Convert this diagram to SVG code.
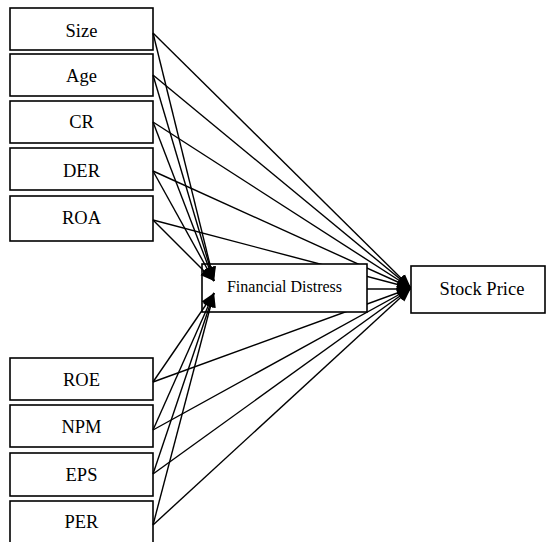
<svg xmlns="http://www.w3.org/2000/svg" width="547" height="542" viewBox="0 0 547 542">
<style>
.box{fill:#fff;stroke:#000;stroke-width:1.6}
text{font-family:'Liberation Serif','Times New Roman','DejaVu Serif',serif;font-size:18.5px;fill:#000;text-anchor:middle}
.fd{font-size:16px}
.c line{stroke:#000;stroke-width:1.4;marker-end:url(#ah)}
</style>
<defs>
<marker id="ah" markerUnits="userSpaceOnUse" markerWidth="16" markerHeight="12" refX="14" refY="6" orient="auto">
<path d="M0,0.5 L14,6 L0,11.5 Z" fill="#000"/>
</marker>
</defs>
<rect width="547" height="542" fill="#fff"/>
<g class="c" id="connectors">
<line x1="153" y1="33" x2="411" y2="288"/>
<line x1="153" y1="75" x2="411" y2="288"/>
<line x1="153" y1="122" x2="411" y2="288"/>
<line x1="153" y1="171" x2="411" y2="288"/>
<line x1="153" y1="220" x2="411" y2="288"/>
<line x1="153" y1="382" x2="411" y2="288"/>
<line x1="153" y1="430" x2="411" y2="288"/>
<line x1="153" y1="474" x2="411" y2="288"/>
<line x1="153" y1="525" x2="411" y2="288"/>
</g>
<g id="size"><rect class="box" x="10" y="8" width="143" height="42"/><text x="81.5" y="37">Size</text></g>
<g id="age"><rect class="box" x="10" y="54" width="143" height="42"/><text x="81.5" y="82">Age</text></g>
<g id="cr"><rect class="box" x="10" y="101" width="143" height="42"/><text x="81.5" y="128">CR</text></g>
<g id="der"><rect class="box" x="10" y="148" width="143" height="42"/><text x="81.5" y="177">DER</text></g>
<g id="roa"><rect class="box" x="10" y="196" width="143" height="45"/><text x="81.5" y="224">ROA</text></g>
<g id="roe"><rect class="box" x="10" y="358" width="143" height="42"/><text x="81.5" y="386">ROE</text></g>
<g id="npm"><rect class="box" x="10" y="405" width="143" height="42"/><text x="81.5" y="433">NPM</text></g>
<g id="eps"><rect class="box" x="10" y="453" width="143" height="43"/><text x="81.5" y="481">EPS</text></g>
<g id="per"><rect class="box" x="10" y="501" width="143" height="45"/><text x="81.5" y="528">PER</text></g>
<g id="fd"><rect class="box" x="202" y="264" width="165" height="48"/><text class="fd" x="284.5" y="292">Financial Distress</text></g>
<g class="c" id="connectors-fd">
<line x1="153" y1="33" x2="214" y2="281"/>
<line x1="153" y1="75" x2="214" y2="281"/>
<line x1="153" y1="122" x2="214" y2="281"/>
<line x1="153" y1="171" x2="214" y2="281"/>
<line x1="153" y1="220" x2="214" y2="281"/>
<line x1="153" y1="382" x2="214" y2="293"/>
<line x1="153" y1="430" x2="214" y2="293"/>
<line x1="153" y1="474" x2="214" y2="293"/>
<line x1="153" y1="525" x2="214" y2="293"/>
<line x1="367" y1="289" x2="411" y2="289"/>
</g>
<g id="sp"><rect class="box" x="411" y="266" width="134" height="47"/><text x="482" y="295">Stock Price</text></g>
</svg>
